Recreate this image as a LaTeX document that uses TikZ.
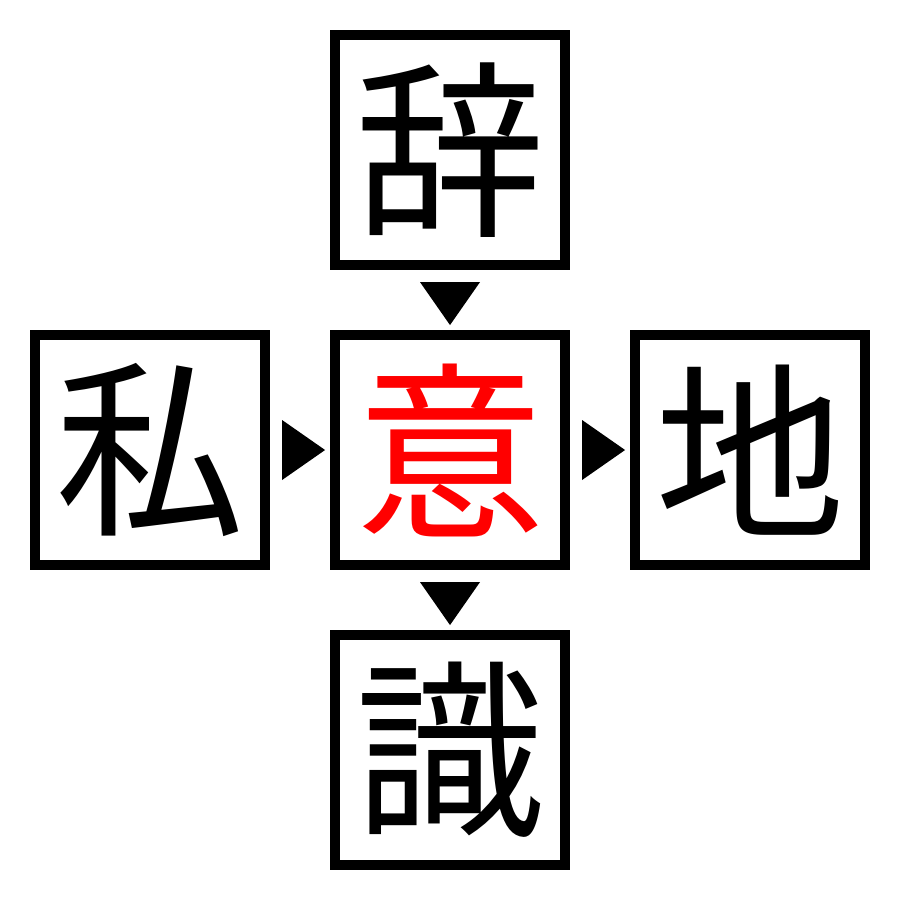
\documentclass[tikz,border=0pt]{standalone}
\usepackage{fontspec}
\newfontfamily\jpfont{Noto Sans CJK JP}
\usetikzlibrary{calc}
\begin{document}
\begin{tikzpicture}[x=0.01cm,y=-0.01cm,
  kbox/.style={draw=black,line width=0.1cm,minimum size=2.3cm,inner sep=0pt,
    font=\jpfont\fontsize{54}{54}\selectfont},
  tri/.style={fill=black}]
\useasboundingbox (0,0) rectangle (900,900);
\node[kbox] (top) at (450,150) {辞};
\node[kbox] (left) at (150,450) {私};
\node[kbox,text=red] (mid) at (450,450) {意};
\node[kbox] (right) at (750,450) {地};
\node[kbox] (bot) at (450,750) {識};
% connectors (triangles)
\fill[tri] ($(top.south)+(-30,12)$) -- ($(top.south)+(30,12)$) -- ($(top.south)+(0,55)$) -- cycle;
\fill[tri] ($(mid.south)+(-30,12)$) -- ($(mid.south)+(30,12)$) -- ($(mid.south)+(0,55)$) -- cycle;
\fill[tri] ($(left.east)+(12,-30)$) -- ($(left.east)+(12,30)$) -- ($(left.east)+(55,0)$) -- cycle;
\fill[tri] ($(mid.east)+(12,-30)$) -- ($(mid.east)+(12,30)$) -- ($(mid.east)+(55,0)$) -- cycle;
\end{tikzpicture}
\end{document}
